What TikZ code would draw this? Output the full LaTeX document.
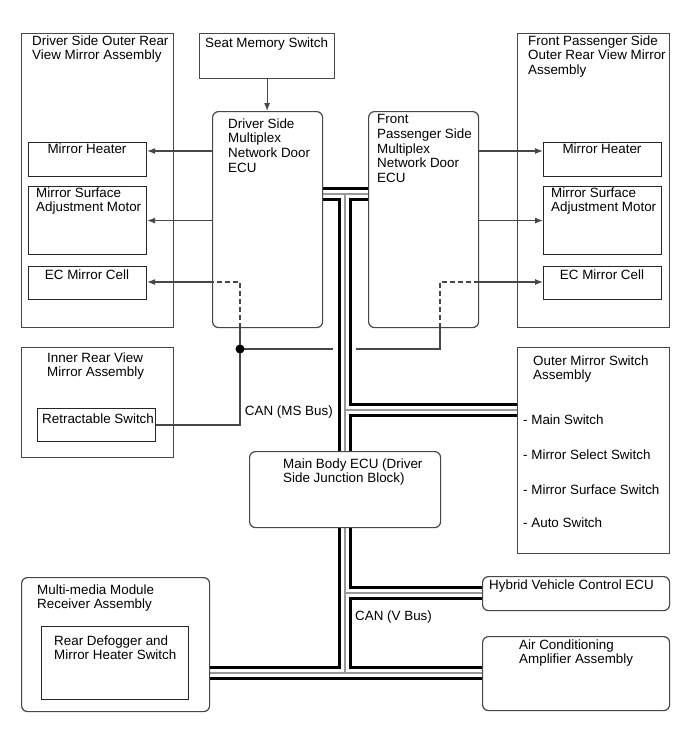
\documentclass[tikz,border=0pt]{standalone}
\usepackage{fontspec}
\setmainfont{Liberation Sans}
\usetikzlibrary{arrows.meta,calc}
\pgfdeclarelayer{back}
\pgfdeclarelayer{bg}
\pgfsetlayers{back,bg,main}
\begin{document}
\begin{tikzpicture}[x=1pt,y=-1pt,
  every node/.style={font=\fontsize{13.4}{14.8}\selectfont},
  box/.style={draw=black!72, line width=1.2pt, fill=white, inner sep=0pt, anchor=north west},
  rbox/.style={box, rounded corners=6pt},
  ibox/.style={box, draw=black!85, line width=1.1pt},
  lbl/.style={inner sep=0pt, anchor=base west, align=left},
  mlbl/.style={inner sep=0pt, anchor=north west, align=left, yshift=9.9pt},
  clbl/.style={inner sep=0pt, anchor=base, align=center},
  ln/.style={draw=black!72, line width=1.2pt},
  arr/.style={-{Latex[length=8pt,width=6pt]}},
  dsh/.style={dash pattern=on 5pt off 3pt}
]
\begin{pgfonlayer}{back}
\fill[white] (0,0) rectangle (689,756);
\end{pgfonlayer}
\useasboundingbox (0,0) rectangle (689,756);

% assemblies
\node[box, minimum width=152.5pt, minimum height=294pt] (lasm) at (20.5,33) {};
\node[box, minimum width=152pt, minimum height=294pt] (rasm) at (517,33) {};
\node[box, minimum width=152.5pt, minimum height=110pt] (iasm) at (20.5,347) {};
\node[box, minimum width=152pt, minimum height=206pt] (oms) at (517,347) {};
\node[rbox, minimum width=188pt, minimum height=134pt] (mm) at (21,577) {};

% ECUs and boxes
\node[box, minimum width=135pt, minimum height=45pt] (seat) at (199,33) {};
\node[rbox, minimum width=110pt, minimum height=216pt] (drvecu) at (212,111) {};
\node[rbox, minimum width=110pt, minimum height=216pt] (fpecu) at (368,111) {};
\node[ibox, minimum width=118pt, minimum height=34pt] (lheat) at (28,142) {};
\node[ibox, minimum width=118pt, minimum height=68pt] (lmotor) at (28,186) {};
\node[ibox, minimum width=118pt, minimum height=33pt] (lec) at (28,266) {};
\node[ibox, minimum width=118pt, minimum height=34pt] (rheat) at (543,142) {};
\node[ibox, minimum width=118pt, minimum height=68pt] (rmotor) at (543,186) {};
\node[ibox, minimum width=118pt, minimum height=33pt] (rec) at (543,266) {};
\node[ibox, minimum width=118pt, minimum height=33pt] (retr) at (37,408) {};
\node[rbox, minimum width=191pt, minimum height=76pt] (mbecu) at (249,451) {};
\node[rbox, minimum width=187pt, minimum height=34pt] (hyb) at (482,576) {};
\node[rbox, minimum width=187pt, minimum height=74pt] (ac) at (482,636) {};
\node[ibox, minimum width=147pt, minimum height=73pt] (mmin) at (41,626) {};

% bus coordinates
\coordinate (btop) at (345,194);
\coordinate (bms) at (345,410);
\coordinate (bhy) at (345,593);
\coordinate (bbot) at (345,673);

\begin{pgfonlayer}{bg}
\foreach \w/\c in {14/black, 8/white, 1.2/black!40} {
  \draw[line width=\w pt, color=\c] (drvecu.east |- btop) -- (fpecu.west |- btop);
  \draw[line width=\w pt, color=\c] (btop) -- (bbot);
  \draw[line width=\w pt, color=\c] (bms) -- (oms.west |- bms);
  \draw[line width=\w pt, color=\c] (bhy) -- (hyb.west |- bhy);
  \draw[line width=\w pt, color=\c] (mm.east |- bbot) -- (ac.west |- bbot);
}
\end{pgfonlayer}

% thin connectors
\coordinate (yh) at (0,151);
\coordinate (yec) at (0,282);
\draw[ln,arr] (seat.south) -- (seat.south |- drvecu.north);
\draw[ln,arr] (drvecu.west |- yh) -- (lheat.east |- yh);
\draw[ln,arr] (drvecu.west |- lmotor.east) -- (lmotor.east);
\draw[ln,arr] (drvecu.west |- yec) -- (lec.east |- yec);
\draw[ln,arr] (fpecu.east |- yh) -- (rheat.west |- yh);
\draw[ln,arr] (fpecu.east |- rmotor.west) -- (rmotor.west);
\draw[ln,arr] (fpecu.east |- yec) -- (rec.west |- yec);

\coordinate (dot) at (240,349);
\coordinate (ldash) at (240,282);
\coordinate (gapL) at (333,349);
\coordinate (gapR) at (356,349);
\coordinate (rturn) at (440,349);
\coordinate (rdash) at (440,282);
\draw[ln,dsh] (dot |- drvecu.south) -- (ldash) -- (drvecu.west |- ldash);
\draw[ln] (dot) -- (dot |- drvecu.south);
\draw[ln] (dot) -- (gapL);
\draw[ln] (gapR) -- (rturn) -- (rturn |- fpecu.south);
\draw[ln,dsh] (rturn |- fpecu.south) -- (rdash) -- (fpecu.east |- rdash);
\draw[ln] (dot) -- (dot |- retr.east) -- (retr.east);
\fill (dot) circle (4.5pt);

% texts
\node[mlbl] (t1) at (32,45) {Driver Side Outer Rear\\View Mirror Assembly};
\node[lbl] (t2) at (205,47) {Seat Memory Switch};
\node[mlbl] (t3) at (228,128) {Driver Side\\Multiplex\\Network Door\\ECU};
\node[mlbl] (t4) at (377,124) {Front\\Passenger Side\\Multiplex\\Network Door\\ECU};
\node[mlbl] (t5) at (528,45) {Front Passenger Side\\Outer Rear View Mirror\\Assembly};
\node[clbl] (t6) at (87,153) {Mirror Heater};
\node[mlbl] (t7) at (36,197) {Mirror Surface\\Adjustment Motor};
\node[clbl] (t8) at (87,279) {EC Mirror Cell};
\node[clbl] (t9) at (602,153) {Mirror Heater};
\node[mlbl] (t10) at (551,197) {Mirror Surface\\Adjustment Motor};
\node[clbl] (t11) at (602,279) {EC Mirror Cell};
\node[mlbl] (t12) at (47,362) {Inner Rear View\\Mirror Assembly};
\node[lbl] (t13) at (42,423) {Retractable Switch};
\node[inner sep=0pt, anchor=base east] (t14) at (333,415) {CAN (MS Bus)};
\node[mlbl] (t15) at (533,365) {Outer Mirror Switch\\Assembly};
\node[lbl] (t16) at (523,424) {- Main Switch};
\node[lbl] (t17) at (523,459) {- Mirror Select Switch};
\node[lbl] (t18) at (523,494) {- Mirror Surface Switch};
\node[lbl] (t19) at (523,527) {- Auto Switch};
\node[mlbl] (t20) at (283,468) {Main Body ECU (Driver\\Side Junction Block)};
\node[lbl] (t21) at (489,589) {Hybrid Vehicle Control ECU};
\node[lbl] (t22) at (355,620) {CAN (V Bus)};
\node[mlbl] (t23) at (519,649) {Air Conditioning\\Amplifier Assembly};
\node[mlbl] (t24) at (37,594) {Multi-media Module\\Receiver Assembly};
\node[mlbl] (t25) at (54,645) {Rear Defogger and\\Mirror Heater Switch};
\end{tikzpicture}
\end{document}
